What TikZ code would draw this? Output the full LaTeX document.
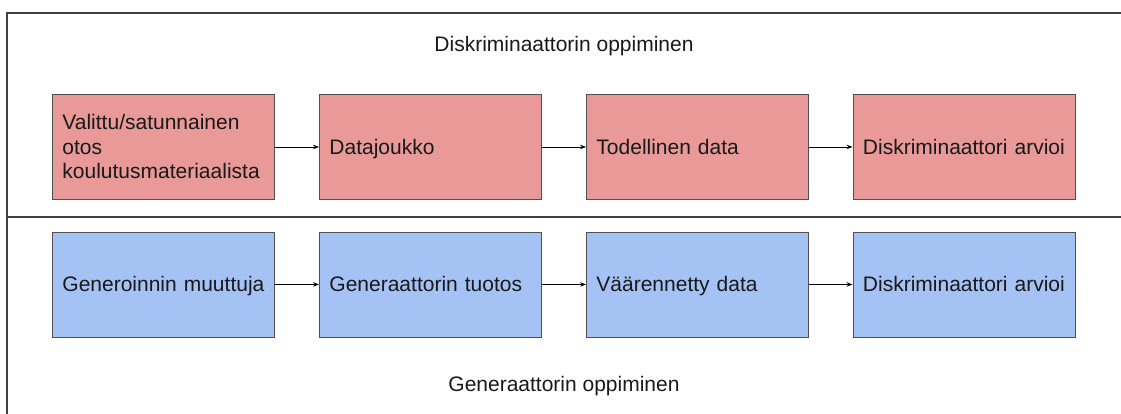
\documentclass[tikz,border=0pt]{standalone}
\usepackage{fontspec}
\setmainfont{Liberation Sans}
\usetikzlibrary{arrows.meta}
\definecolor{redfill}{HTML}{EA9999}
\definecolor{bluefill}{HTML}{A4C2F4}
\definecolor{edge}{HTML}{505050}
\definecolor{frame}{HTML}{404040}
\begin{document}
\begin{tikzpicture}[x=1pt,y=-1pt,
  stagebox/.style={draw=edge,line width=0.9pt,anchor=north west,
    minimum width=222pt,minimum height=105pt,text width=202pt,
    inner xsep=10pt,inner ysep=0pt,align=left,
    text height=15pt,text depth=0pt,
    font=\fontsize{21}{24.5}\selectfont,text=black!90},
  redbox/.style={stagebox,fill=redfill},
  bluebox/.style={stagebox,fill=bluefill},
  heading/.style={anchor=base,inner sep=0pt,
    font=\fontsize{21}{24.5}\selectfont,text=black!90},
  flow/.style={line width=0.8pt,-{Stealth[length=6pt,width=4.5pt]}},
  framing/.style={draw=frame,line width=1.4pt}]
\useasboundingbox (0,0) rectangle (1121,414);
% outer frame and divider
\coordinate (tl) at (7,13);
\coordinate (tr) at (1121,13);
\coordinate (bl) at (7,414);
\coordinate (ml) at (7,216.5);
\coordinate (mr) at (1121,216.5);
\draw[framing] (tr) -- (tl) -- (bl);
\draw[framing,line width=2pt] (ml) -- (mr);
% headings
\node[heading] (tD) at (564,51.7) {Diskriminaattorin oppiminen};
\node[heading] (tG) at (564,391.7) {Generaattorin oppiminen};
% discriminator training row
\node[redbox,text depth=49pt] (r1) at (52,94) {Valittu/satunnainen\\otos\\koulutusmateriaalista};
\node[redbox] (r2) at (319,94) {Datajoukko};
\node[redbox] (r3) at (586,94) {Todellinen data};
\node[redbox] (r4) at (852.5,94) {Diskriminaattori arvioi};
% generator training row
\node[bluebox] (b1) at (52,231.5) {Generoinnin muuttuja};
\node[bluebox] (b2) at (319,231.5) {Generaattorin tuotos};
\node[bluebox] (b3) at (586,231.5) {Väärennetty data};
\node[bluebox] (b4) at (852.5,231.5) {Diskriminaattori arvioi};
% connectors
\draw[flow] (r1) -- (r2);
\draw[flow] (r2) -- (r3);
\draw[flow] (r3) -- (r4);
\draw[flow] (b1) -- (b2);
\draw[flow] (b2) -- (b3);
\draw[flow] (b3) -- (b4);
\end{tikzpicture}
\end{document}
